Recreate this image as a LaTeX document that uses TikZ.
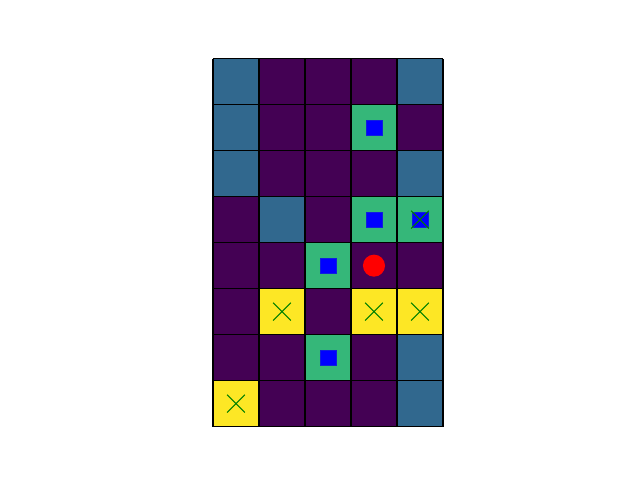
\documentclass[tikz,border=0pt]{standalone}
\usetikzlibrary{positioning, shapes.misc}
\definecolor{wall}{HTML}{440154}
\definecolor{steel}{HTML}{31688E}
\definecolor{grass}{HTML}{35B779}
\definecolor{sun}{HTML}{FDE725}
\tikzset{
  tile/.style={draw=black, line width=0.9pt},
  goalmark/.style={draw=blue!70!steel, fill=blue, line width=0.3pt, minimum size=0.34cm, inner sep=0pt},
  xmark/.style={cross out, draw=green!50!black, line width=0.7pt, minimum size=0.36cm, inner sep=0pt},
  agent/.style={circle, fill=red, minimum size=0.48cm, inner sep=0pt},
}
\begin{document}
\begin{tikzpicture}[x=1cm,y=1cm]
\useasboundingbox (-4.630,-1.160) rectangle (9.283,9.275);
% background cells
\fill[wall] (0,0) rectangle (5,8);
\foreach \c/\r in {0/7,4/7,0/6,0/5,4/5,1/4,4/1,4/0}
  \fill[steel] (\c,\r) rectangle ++(1,1);
\foreach \c/\r in {3/6,3/4,4/4,2/3,2/1}
  \fill[grass] (\c,\r) rectangle ++(1,1);
\foreach \c/\r in {1/2,3/2,4/2,0/0}
  \fill[sun] (\c,\r) rectangle ++(1,1);
\draw[tile] (0,0) grid (5,8);
% markers
\foreach \c/\r [count=\i] in {3/6,3/4,4/4,2/3,2/1}
  \node[goalmark] (g\i) at (\c+.5,\r+.5) {};
\foreach \c/\r [count=\i] in {1/2,3/2,4/2,0/0,4/4}
  \node[xmark] (x\i) at (\c+.5,\r+.5) {};
\node[agent] (bot) at (3.5,3.5) {};
\end{tikzpicture}
\end{document}
